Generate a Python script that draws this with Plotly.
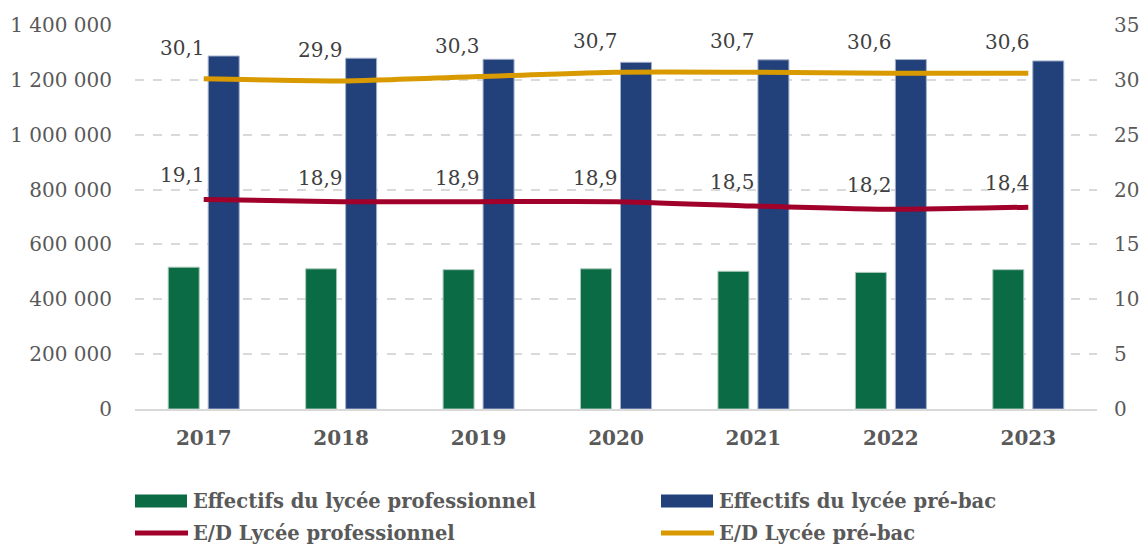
import plotly.graph_objects as go

years = [2017, 2018, 2019, 2020, 2021, 2022, 2023]
eff_pro = [517000, 511000, 508000, 511000, 502000, 498000, 508000]
eff_prebac = [1287000, 1279000, 1275000, 1264000, 1273000, 1274000, 1269000]
ed_pro = [19.1, 18.9, 18.9, 18.9, 18.5, 18.2, 18.4]
ed_prebac = [30.1, 29.9, 30.3, 30.7, 30.7, 30.6, 30.6]
series_names = ["Effectifs du lycée professionnel", "Effectifs du lycée pré-bac",
                "E/D Lycée professionnel", "E/D Lycée pré-bac"]

GREEN = "#0b6b45"
BLUE = "#22417a"
RED = "#a0002a"
GOLD = "#d99a00"
FONT = "DejaVu Serif"

W, H = 1148, 546
ML, MR, MT, MB = 135, 51, 25, 137
PW, PH = W - ML - MR, H - MT - MB

fig = go.Figure()
fig.add_trace(go.Bar(x=years, y=eff_pro, name=series_names[0], showlegend=False,
                     marker=dict(color=GREEN, line=dict(color="#a9c9b8", width=1))))
fig.add_trace(go.Bar(x=years, y=eff_prebac, name=series_names[1], showlegend=False,
                     marker=dict(color=BLUE, line=dict(color="#a3b1cc", width=1))))
fig.add_trace(go.Scatter(x=years, y=ed_pro, name=series_names[2], yaxis="y2", showlegend=False,
                         mode="lines", line=dict(color=RED, width=5, shape="spline", smoothing=0.6)))
fig.add_trace(go.Scatter(x=years, y=ed_prebac, name=series_names[3], yaxis="y2", showlegend=False,
                         mode="lines", line=dict(color=GOLD, width=5, shape="spline", smoothing=0.6)))

for ys, dy in ((ed_pro, 24), (ed_prebac, 31)):
    for xv, yv in zip(years, ys):
        fig.add_annotation(x=xv, y=yv, xref="x", yref="y2", text=f"{yv:.1f}".replace(".", ","),
                           showarrow=False, xshift=-21, yshift=dy,
                           font=dict(family=FONT, size=20, color="#404040"))

# custom legend (pixel positions converted to paper coordinates)
def px(x):
    return (x - ML) / PW

def py(y):
    return (MT + PH - y) / PH

legend_items = [
    (series_names[0], "rect", GREEN, 135, 501),
    (series_names[1], "rect", BLUE, 661, 501),
    (series_names[2], "line", RED, 135, 533),
    (series_names[3], "line", GOLD, 661, 533),
]
for name, kind, color, x0, yc in legend_items:
    if kind == "rect":
        fig.add_shape(type="rect", xref="paper", yref="paper",
                      x0=px(x0), x1=px(x0 + 52), y0=py(yc + 6.5), y1=py(yc - 6.5),
                      fillcolor=color, line=dict(width=0))
    else:
        fig.add_shape(type="line", xref="paper", yref="paper",
                      x0=px(x0), x1=px(x0 + 53), y0=py(yc), y1=py(yc),
                      line=dict(color=color, width=5))
    fig.add_annotation(xref="paper", yref="paper", x=px(x0 + 56), y=py(yc),
                       xanchor="left", yanchor="middle", showarrow=False, text=f"<b>{name}</b>",
                       font=dict(family=FONT, size=19.5, color="#595959"))

fig.update_layout(
    width=W, height=H,
    margin=dict(l=ML, r=MR, t=MT, b=MB),
    paper_bgcolor="white", plot_bgcolor="white",
    separators=", ",
    showlegend=False,
    barmode="group", bargap=0.418, bargroupgap=0.225,
    font=dict(family=FONT, color="#595959"),
    xaxis=dict(type="linear", range=[2016.5, 2023.5], dtick=1, tickformat="d",
               showgrid=False, showline=True, linecolor="#d9d9d9", linewidth=1.5,
               tickfont=dict(family=FONT, size=20, color="#595959", weight="bold"),
               ticks="", ticklabelstandoff=10, automargin=False, zeroline=False),
    yaxis=dict(range=[0, 1400000], dtick=200000, tickformat=",d",
               showgrid=True, gridcolor="#d9d9d9", griddash="dash", gridwidth=1.5,
               zeroline=False, tickfont=dict(family=FONT, size=20, color="#595959"),
               ticklabelstandoff=22, automargin=False),
    yaxis2=dict(range=[0, 35], dtick=5, overlaying="y", side="right", showgrid=False,
                zeroline=False, tickfont=dict(family=FONT, size=20, color="#595959"),
                ticklabelstandoff=16, automargin=False),
)

fig.write_html("out.html", config={"displayModeBar": False},
               post_script="document.body.style.margin='0px';")
